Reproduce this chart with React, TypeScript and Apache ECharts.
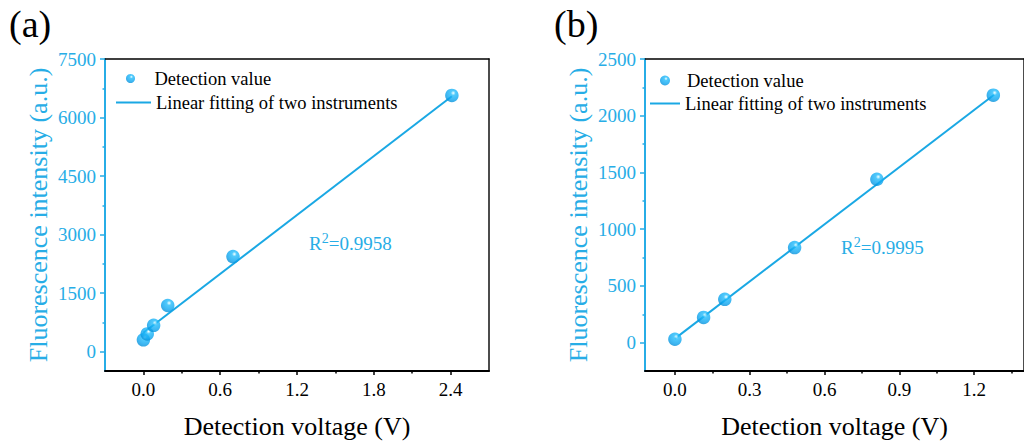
import React, { useEffect, useRef } from "react";
import * as echarts from "echarts";

// ---------- Data ----------
// Panel (a)
const aVoltage = [0.0, 0.03, 0.08, 0.19, 0.7, 2.41];
const aIntensity = [300, 450, 670, 1180, 2435, 6565];
const aFitVoltage = [0.0, 2.41];
const aFitIntensity = [480, 6545];
const aXMajor = [0, 0.6, 1.2, 1.8, 2.4];
const aXMinor = [0.3, 0.9, 1.5, 2.1];
const aYMajor = [0, 1500, 3000, 4500, 6000, 7500];
const aYMinor = [750, 2250, 3750, 5250, 6750];
const aR2 = "0.9958";

// Panel (b)
const bVoltage = [0.0, 0.115, 0.2, 0.48, 0.81, 1.277];
const bIntensity = [30, 222, 382, 838, 1440, 2181];
const bFitVoltage = [0.0, 1.28];
const bFitIntensity = [35, 2185];
const bXMajor = [0, 0.3, 0.6, 0.9, 1.2];
const bXMinor = [0.15, 0.45, 0.75, 1.05, 1.35];
const bYMajor = [0, 500, 1000, 1500, 2000, 2500];
const bYMinor = [250, 750, 1250, 1750, 2250];
const bR2 = "0.9995";

const seriesNames = ["Detection value", "Linear fitting of two instruments"];
const xTitle = "Detection voltage (V)";
const yTitle = "Fluorescence intensity (a.u.)";

const FONT = "Liberation Serif";
const BLUE = "#27ade6";
const LINE_BLUE = "#1aa8e4";

const markerFill = new echarts.graphic.RadialGradient(0.6, 0.32, 0.7, [
  { offset: 0, color: "#ffffff" },
  { offset: 0.08, color: "#b0ecff" },
  { offset: 0.25, color: "#24bcfb" },
  { offset: 0.7, color: "#0ea6f0" },
  { offset: 1, color: "#068fd8" },
]);

type PanelCfg = {
  rect: { left: number; top: number; width: number; height: number };
  xMin: number; xMax: number; yMin: number; yMax: number;
  xMajor: number[]; xMinor: number[]; yMajor: number[]; yMinor: number[];
  volt: number[]; inten: number[]; fitV: number[]; fitI: number[];
};

function buildPanel(p: PanelCfg, gi: number) {
  const g0 = gi * 2;
  const g1 = gi * 2 + 1;
  const grids = [
    { ...p.rect, containLabel: false },
    { ...p.rect, containLabel: false },
  ];
  const xAxes = [
    {
      gridIndex: g0, type: "value", position: "bottom", min: p.xMin, max: p.xMax,
      axisLine: { show: true, onZero: false, lineStyle: { color: "#000", width: 2 } },
      axisTick: { show: true, inside: false, length: 4, customValues: p.xMajor, lineStyle: { color: "#000", width: 1.5 } },
      axisLabel: {
        show: true, customValues: p.xMajor, margin: 9, color: "#000", fontSize: 19, fontFamily: FONT,
        formatter: (v: number) => v.toFixed(1),
      },
      splitLine: { show: false },
      name: xTitle, nameLocation: "middle", nameGap: 42,
      nameTextStyle: { color: "#000", fontSize: 26, fontFamily: FONT },
    },
    {
      gridIndex: g0, type: "value", position: "top", min: p.xMin, max: p.xMax,
      axisLine: { show: true, onZero: false, lineStyle: { color: "#000", width: 1.5 } },
      axisTick: { show: false }, axisLabel: { show: false }, splitLine: { show: false },
    },
    {
      gridIndex: g1, type: "value", position: "bottom", min: p.xMin, max: p.xMax,
      axisLine: { show: false, onZero: false },
      axisTick: { show: true, inside: false, length: 2.5, customValues: p.xMinor, lineStyle: { color: "#000", width: 1.5 } },
      axisLabel: { show: false }, splitLine: { show: false },
    },
  ];
  const yAxes = [
    {
      gridIndex: g0, type: "value", position: "left", min: p.yMin, max: p.yMax,
      axisLine: { show: true, onZero: false, lineStyle: { color: BLUE, width: 2 } },
      axisTick: { show: true, inside: false, length: 5, customValues: p.yMajor, lineStyle: { color: BLUE, width: 1.5 } },
      axisLabel: {
        show: true, customValues: p.yMajor, margin: 9, color: BLUE, fontSize: 19, fontFamily: FONT,
        formatter: (v: number) => String(v),
      },
      splitLine: { show: false },
      name: yTitle, nameLocation: "middle", nameGap: 54,
      nameTextStyle: { color: BLUE, fontSize: 26, fontFamily: FONT },
    },
    {
      gridIndex: g0, type: "value", position: "right", min: p.yMin, max: p.yMax,
      axisLine: { show: true, onZero: false, lineStyle: { color: "#111", width: 1.5 } },
      axisTick: { show: false }, axisLabel: { show: false }, splitLine: { show: false },
    },
    {
      gridIndex: g1, type: "value", position: "left", min: p.yMin, max: p.yMax,
      axisLine: { show: false, onZero: false },
      axisTick: { show: true, inside: false, length: 2.5, customValues: p.yMinor, lineStyle: { color: BLUE, width: 1.5 } },
      axisLabel: { show: false }, splitLine: { show: false },
    },
  ];
  const xi = gi * 3;
  const yi = gi * 3;
  const series = [
    {
      type: "line", name: seriesNames[1], xAxisIndex: xi, yAxisIndex: yi,
      data: p.fitV.map((v, i) => [v, p.fitI[i]]),
      symbol: "none", showSymbol: false, lineStyle: { color: LINE_BLUE, width: 2 }, itemStyle: { color: LINE_BLUE }, z: 2,
    },
    {
      type: "scatter", name: seriesNames[0], xAxisIndex: xi, yAxisIndex: yi,
      data: p.volt.map((v, i) => [v, p.inten[i]]),
      symbol: "circle", symbolSize: 13.5, itemStyle: { color: markerFill }, z: 3,
    },
  ];
  return { grids, xAxes, yAxes, series };
}

export default function App() {
  const ref = useRef<HTMLDivElement>(null);
  useEffect(() => {
    if (!ref.current) return;
    const chart = echarts.init(ref.current, undefined, { renderer: "svg" });
    const pa = buildPanel(
      {
        rect: { left: 105, top: 59, width: 384, height: 312 },
        xMin: -0.3, xMax: 2.7, yMin: -500, yMax: 7500,
        xMajor: aXMajor, xMinor: aXMinor, yMajor: aYMajor, yMinor: aYMinor,
        volt: aVoltage, inten: aIntensity, fitV: aFitVoltage, fitI: aFitIntensity,
      },
      0
    );
    const pb = buildPanel(
      {
        rect: { left: 645, top: 59, width: 384, height: 312 },
        xMin: -0.12, xMax: 1.4, yMin: -250, yMax: 2500,
        xMajor: bXMajor, xMinor: bXMinor, yMajor: bYMajor, yMinor: bYMinor,
        volt: bVoltage, inten: bIntensity, fitV: bFitVoltage, fitI: bFitIntensity,
      },
      1
    );
    const legendText = { color: "#000", fontSize: 18.5, fontFamily: FONT };
    const lineIcon = (name: string) => [{ name, icon: "rect" }];
    const legends = [
      { data: [seriesNames[0]], left: 126, top: 69, itemWidth: 38, itemHeight: 9 },
      { data: lineIcon(seriesNames[1]), left: 116, top: 93, itemWidth: 35, itemHeight: 2 },
      { data: [seriesNames[0]], left: 660, top: 71, itemWidth: 34, itemHeight: 10 },
      { data: lineIcon(seriesNames[1]), left: 650, top: 94, itemWidth: 30, itemHeight: 2 },
    ].map((l) => ({ ...l, orient: "horizontal", padding: 0, textStyle: legendText, selectedMode: false }));

    const r2Rich = {
      a: { fontSize: 19, fontFamily: FONT, fill: BLUE },
      s: { fontSize: 14, fontFamily: FONT, fill: BLUE, padding: [0, 0, 11, 0] },
    };
    chart.setOption({
      animation: false,
      backgroundColor: "#fff",
      textStyle: { fontFamily: FONT },
      grid: [...pa.grids, ...pb.grids],
      xAxis: [...pa.xAxes, ...pb.xAxes],
      yAxis: [...pa.yAxes, ...pb.yAxes],
      series: [...pa.series, ...pb.series],
      legend: legends,
      graphic: [
        { type: "text", left: 9, top: 5, style: { text: "(a)", fontSize: 38, fontFamily: FONT, fill: "#000" } },
        { type: "text", left: 554, top: 5, style: { text: "(b)", fontSize: 38, fontFamily: FONT, fill: "#000" } },
        { type: "text", left: 309, top: 231, style: { text: "{a|R}{s|2}{a|=" + aR2 + "}", rich: r2Rich, fill: BLUE } },
        { type: "text", left: 841, top: 235, style: { text: "{a|R}{s|2}{a|=" + bR2 + "}", rich: r2Rich, fill: BLUE } },
      ],
    });
    return () => chart.dispose();
  }, []);
  return (
    <div
      ref={ref}
      style={{ position: "absolute", left: 0, top: 0, width: 1024, height: 445, background: "#fff" }}
    />
  );
}
